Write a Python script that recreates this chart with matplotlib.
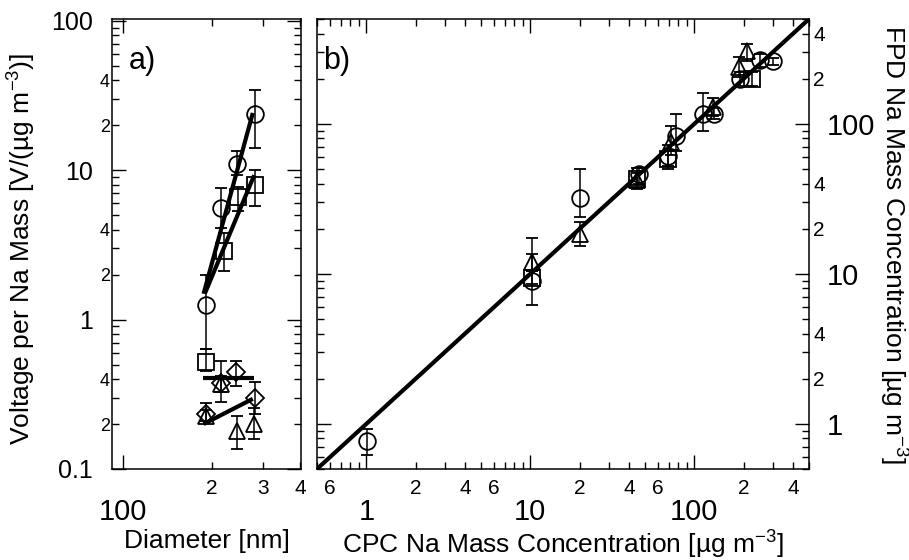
import math
import matplotlib
matplotlib.use('Agg')
import matplotlib.pyplot as plt
from matplotlib.ticker import FixedLocator, LogLocator, FuncFormatter

plt.rcParams['font.family'] = ['Liberation Sans', 'DejaVu Sans']
plt.rcParams['mathtext.fontset'] = 'custom'
plt.rcParams['mathtext.rm'] = 'Liberation Sans'
plt.rcParams['mathtext.it'] = 'Liberation Sans:italic'

# ---- panel a: voltage per Na mass vs diameter ----
d_circ = [192, 216, 244, 281]
v_circ = [1.26, 5.55, 11.1, 23.8]
v_circ_lo = [0.64, 4.1, 9.26, 14.0]
v_circ_hi = [2.0, 7.57, 13.4, 34.4]

d_sq = [191, 221, 246, 281]
v_sq = [0.52, 2.86, 6.58, 7.94]
v_sq_lo = [0.455, 2.13, 5.3, 5.8]
v_sq_hi = [0.64, 3.8, 7.7, 10.1]

d_dia = [191, 216, 242, 281]
v_dia = [0.234, 0.378, 0.448, 0.30]
v_dia_lo = [0.21, 0.28, 0.36, 0.234]
v_dia_hi = [0.277, 0.53, 0.53, 0.38]

d_tri = [191, 216, 244, 279]
v_tri = [0.227, 0.37, 0.18, 0.20]
v_tri_lo = [0.21, 0.33, 0.136, 0.159]
v_tri_hi = [0.25, 0.42, 0.227, 0.256]

fit_circ_d = [188, 276]
fit_circ_v = [1.49, 24.2]
fit_sq_d = [190, 279]
fit_sq_v = [1.5, 9.26]
fit_flat_d = [187, 279]
fit_flat_v = [0.408, 0.408]
fit_low_d = [188, 276]
fit_low_v = [0.2, 0.295]

# ---- panel b: FPD vs CPC Na mass concentration ----
cpc_circ = [1.01, 10.3, 20, 46, 69, 77, 113, 132, 190, 250, 302]
fpd_circ = [0.77, 9.0, 32, 46, 61, 83, 117, 117, 200, 265, 262]
fpd_circ_lo = [0.62, 6.2, 24, 40, 52, 66, 90, 108, 180, 240, 248]
fpd_circ_hi = [0.93, 17.4, 50, 51, 72, 117, 160, 128, 222, 290, 276]

cpc_tri = [10.3, 20, 45, 72, 129, 188, 210]
fpd_tri = [12, 18.3, 42, 76, 130, 240, 304]
fpd_tri_lo = [10.5, 15.3, 36.6, 62, 112, 205, 262]
fpd_tri_hi = [13.5, 22, 51, 97, 148, 280, 340]

cpc_sq = [10.3, 45, 69, 226]
fpd_sq = [9.4, 43, 58, 200]
fpd_sq_lo = [8.6, 39, 50, 180]
fpd_sq_hi = [10.4, 47, 66, 222]

one_to_one = [0.5, 500]


def errs(v, lo, hi):
    return [[a - b for a, b in zip(v, lo)], [c - a for a, c in zip(v, hi)]]


def mant_fmt(shown):
    def f(v, pos):
        if v <= 0:
            return ''
        m = v / 10 ** math.floor(math.log10(v) + 1e-9)
        m = int(round(m))
        return str(m) if m in shown else ''
    return FuncFormatter(f)


def major_fmt(v, pos):
    return '%g' % v


def points(ax, x, y, lo, hi, marker, ms):
    ax.errorbar(x, y, yerr=errs(y, lo, hi), fmt=marker, ms=ms, mfc='none',
                mec='black', mew=1.3, ecolor='black', elinewidth=1.1,
                capsize=4, capthick=1.1, zorder=3)


fig = plt.figure(figsize=(9.09, 5.6), dpi=100)
axa = fig.add_axes([112 / 909, 91 / 560, 189 / 909, 450 / 560])
axb = fig.add_axes([317 / 909, 91 / 560, 492 / 909, 450 / 560])

# panel a
points(axa, d_circ, v_circ, v_circ_lo, v_circ_hi, 'o', 12)
points(axa, d_sq, v_sq, v_sq_lo, v_sq_hi, 's', 11)
points(axa, d_dia, v_dia, v_dia_lo, v_dia_hi, 'D', 9)
points(axa, d_tri, v_tri, v_tri_lo, v_tri_hi, '^', 12)
for fx, fy in [(fit_circ_d, fit_circ_v), (fit_sq_d, fit_sq_v),
               (fit_flat_d, fit_flat_v), (fit_low_d, fit_low_v)]:
    axa.plot(fx, fy, color='black', lw=3, solid_capstyle='butt', zorder=4)

axa.set_xscale('log')
axa.set_yscale('log')
axa.set_xlim(92, 402)
axa.set_ylim(0.1, 103)
axa.xaxis.set_major_locator(FixedLocator([100]))
axa.xaxis.set_major_formatter(FuncFormatter(major_fmt))
axa.xaxis.set_minor_locator(LogLocator(subs=range(2, 10), numticks=20))
axa.xaxis.set_minor_formatter(mant_fmt([2, 3, 4]))
axa.yaxis.set_major_locator(FixedLocator([0.1, 1, 10, 100]))
axa.yaxis.set_major_formatter(FuncFormatter(major_fmt))
axa.yaxis.set_minor_locator(LogLocator(subs=range(2, 10), numticks=20))
axa.yaxis.set_minor_formatter(mant_fmt([2, 4]))
axa.tick_params(which='both', direction='in', top=True, right=True, width=1)
axa.tick_params(which='major', length=10)
axa.tick_params(which='minor', length=5)
axa.tick_params(axis='x', which='major', pad=21, labelsize=21)
axa.tick_params(axis='x', which='minor', pad=7.5, labelsize=15)
axa.tick_params(axis='y', which='major', pad=14, labelsize=18)
axa.tick_params(axis='y', which='minor', pad=1.5, labelsize=13)
axa.set_xlabel('Diameter [nm]', fontsize=19)
axa.xaxis.set_label_coords(0.5, -0.133)
axa.set_ylabel(r'Voltage per Na Mass [V/(µg m$^{-3}$)]', fontsize=19)
axa.yaxis.set_label_coords(-0.39, 0.49)
axa.text(0.09, 0.94, 'a)', transform=axa.transAxes, fontsize=22,
         ha='left', va='top')

# panel b
axb.plot(one_to_one, one_to_one, color='black', lw=3, zorder=4)
points(axb, cpc_circ, fpd_circ, fpd_circ_lo, fpd_circ_hi, 'o', 12)
points(axb, cpc_tri, fpd_tri, fpd_tri_lo, fpd_tri_hi, '^', 12)
points(axb, cpc_sq, fpd_sq, fpd_sq_lo, fpd_sq_hi, 's', 11)

axb.set_xscale('log')
axb.set_yscale('log')
axb.set_xlim(0.5, 500)
axb.set_ylim(0.5, 500)
for axis in (axb.xaxis, axb.yaxis):
    axis.set_major_locator(FixedLocator([1, 10, 100]))
    axis.set_major_formatter(FuncFormatter(major_fmt))
    axis.set_minor_locator(LogLocator(subs=range(2, 10), numticks=20))
axb.xaxis.set_minor_formatter(mant_fmt([2, 4, 6]))
axb.yaxis.set_minor_formatter(mant_fmt([2, 4]))
axb.yaxis.tick_right()
axb.yaxis.set_label_position('right')
axb.tick_params(which='both', direction='in', top=True, left=True, right=True,
                labelleft=False, labelright=True, width=1)
axb.tick_params(which='major', length=10)
axb.tick_params(which='minor', length=5)
axb.tick_params(axis='x', which='major', pad=21, labelsize=21)
axb.tick_params(axis='x', which='minor', pad=7, labelsize=15)
axb.tick_params(axis='y', which='major', pad=13, labelsize=21)
axb.tick_params(axis='y', which='minor', pad=3, labelsize=15)
axb.set_xlabel(r'CPC Na Mass Concentration [µg m$^{-3}$]', fontsize=19)
axb.xaxis.set_label_coords(0.5, -0.133)
axb.set_ylabel(r'FPD Na Mass Concentration [µg m$^{-3}$]', fontsize=19,
               rotation=-90, va='center')
axb.yaxis.set_label_coords(1.17, 0.5)
axb.text(0.012, 0.94, 'b)', transform=axb.transAxes, fontsize=22,
         ha='left', va='top')

for ax in (axa, axb):
    for s in ax.spines.values():
        s.set_linewidth(1.1)

fig.savefig('out.png', dpi=100)
